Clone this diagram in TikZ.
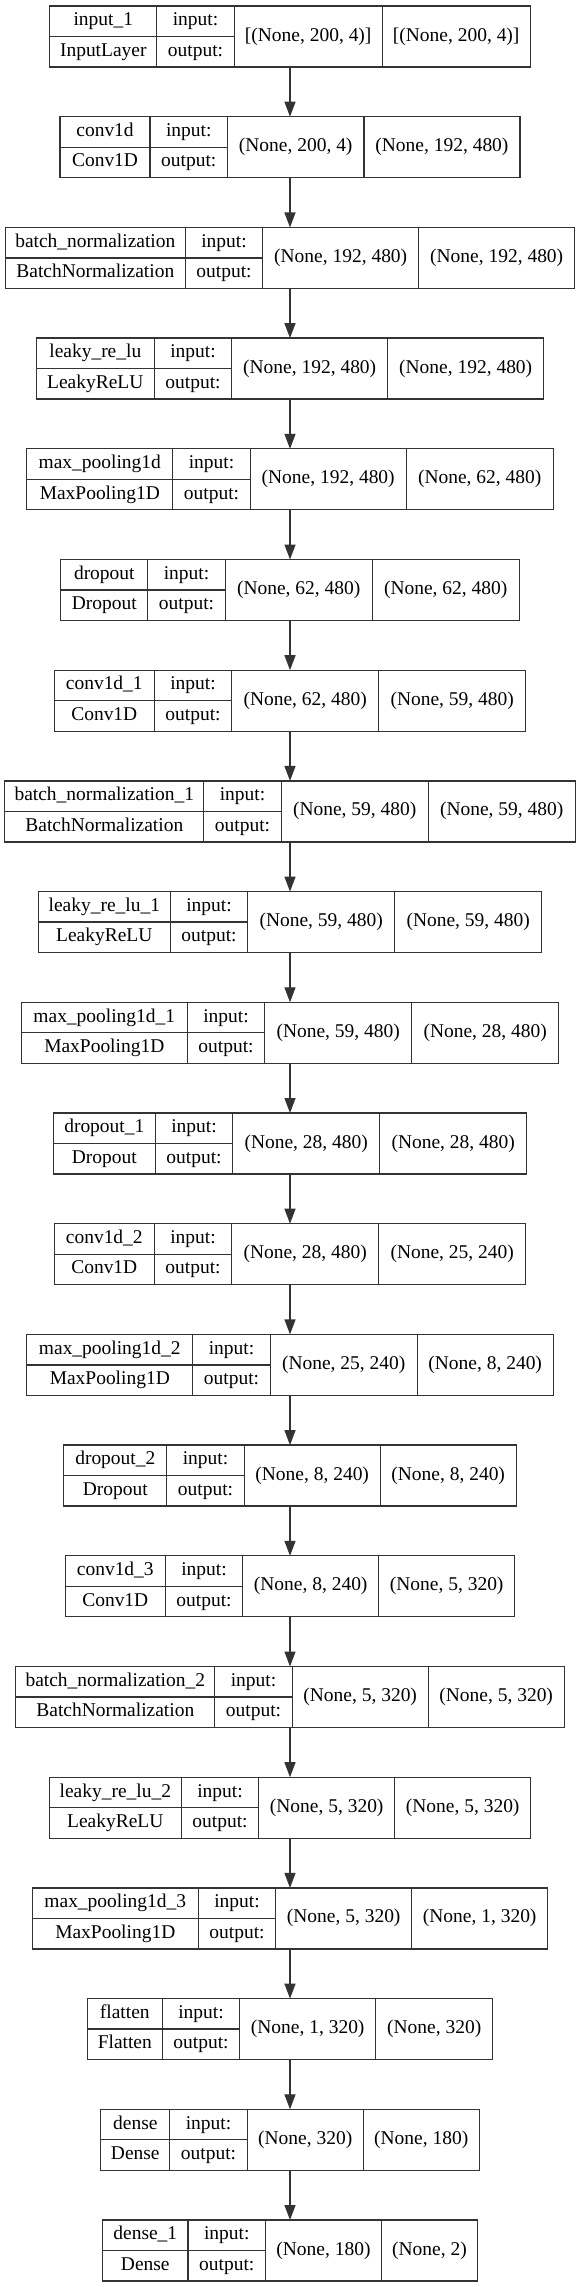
\documentclass[tikz,border=0pt]{standalone}
\usepackage{fontspec}
\setmainfont{Liberation Serif}
\usepackage{tikz}
\usetikzlibrary{arrows.meta}

\tikzset{
    cell/.style={draw=black!80, line width=1pt, inner sep=0pt, outer sep=0pt,
        anchor=north west, text height=10pt, text depth=3.2pt,
        font=\fontsize{14.6}{17}\selectfont},
    frame/.style={inner sep=0pt, outer sep=0pt, minimum height=45.75pt},
    arr/.style={draw=black!80, line width=1pt,
        -{Triangle[length=11.25pt, width=8.25pt]}}
}

\begin{document}
\begin{tikzpicture}[x=0.75pt, y=-0.75pt]
    \fill[white] (0,0) rectangle (580,2287);

    % one row per layer: widths of name, input and output columns, then texts
    \foreach \n/\wname/\win/\wout/\lname/\lclass/\lin/\lout in {
        1/107/148/148/input\_1/InputLayer/{[(None, 200, 4)]}/{[(None, 200, 4)]},
        2/90/136.5/156/conv1d/Conv1D/{(None, 200, 4)}/{(None, 192, 480)},
        3/180/156/156/batch\_normalization/BatchNormalization/{(None, 192, 480)}/{(None, 192, 480)},
        4/118/156/156/leaky\_re\_lu/LeakyReLU/{(None, 192, 480)}/{(None, 192, 480)},
        5/146/156/147/max\_pooling1d/MaxPooling1D/{(None, 192, 480)}/{(None, 62, 480)},
        6/87/147/147/dropout/Dropout/{(None, 62, 480)}/{(None, 62, 480)},
        7/100/147/147/conv1d\_1/Conv1D/{(None, 62, 480)}/{(None, 59, 480)},
        8/199/147/147/batch\_normalization\_1/BatchNormalization/{(None, 59, 480)}/{(None, 59, 480)},
        9/132/147/147/leaky\_re\_lu\_1/LeakyReLU/{(None, 59, 480)}/{(None, 59, 480)},
        10/166/147/147/max\_pooling1d\_1/MaxPooling1D/{(None, 59, 480)}/{(None, 28, 480)},
        11/102/147/147/dropout\_1/Dropout/{(None, 28, 480)}/{(None, 28, 480)},
        12/100/147/147/conv1d\_2/Conv1D/{(None, 28, 480)}/{(None, 25, 240)},
        13/166/147/136/max\_pooling1d\_2/MaxPooling1D/{(None, 25, 240)}/{(None, 8, 240)},
        14/103/136/136/dropout\_2/Dropout/{(None, 8, 240)}/{(None, 8, 240)},
        15/100/136/136/conv1d\_3/Conv1D/{(None, 8, 240)}/{(None, 5, 320)},
        16/199/136/136/batch\_normalization\_2/BatchNormalization/{(None, 5, 320)}/{(None, 5, 320)},
        17/132/136/136/leaky\_re\_lu\_2/LeakyReLU/{(None, 5, 320)}/{(None, 5, 320)},
        18/166/136/136/max\_pooling1d\_3/MaxPooling1D/{(None, 5, 320)}/{(None, 1, 320)},
        19/75/136/117/flatten/Flatten/{(None, 1, 320)}/{(None, 320)},
        20/69/116/116/dense/Dense/{(None, 320)}/{(None, 180)},
        21/85.5/116/96/dense\_1/Dense/{(None, 180)}/{(None, 2)}} {
        \pgfmathsetmacro{\xa}{290-(\wname+77.4+\win+\wout)/2}
        \pgfmathsetmacro{\yt}{6+110.7*(\n-1)}
        \node[cell, minimum width=\wname*0.75pt, minimum height=22.875pt] (L\n-name) at (\xa,\yt) {\lname};
        \node[cell, minimum width=\wname*0.75pt, minimum height=22.875pt] (L\n-class) at (\xa,\yt+30.5) {\lclass};
        \node[cell, minimum width=58.05pt, minimum height=22.875pt] (L\n-inlabel) at (\xa+\wname,\yt) {input:};
        \node[cell, minimum width=58.05pt, minimum height=22.875pt] (L\n-outlabel) at (\xa+\wname,\yt+30.5) {output:};
        \node[cell, minimum width=\win*0.75pt, minimum height=45.75pt] (L\n-inshape) at (\xa+\wname+77.4,\yt) {\lin};
        \node[cell, minimum width=\wout*0.75pt, minimum height=45.75pt] (L\n-outshape) at (\xa+\wname+77.4+\win,\yt) {\lout};
        \node[frame, minimum width=(\wname+77.4+\win+\wout)*0.75pt] (L\n) at (290,\yt+30.5) {};
    }

    \foreach \n [evaluate=\n as \m using int(\n+1)] in {1,...,20}
        \draw[arr] (L\n) -- (L\m);
\end{tikzpicture}
\end{document}
